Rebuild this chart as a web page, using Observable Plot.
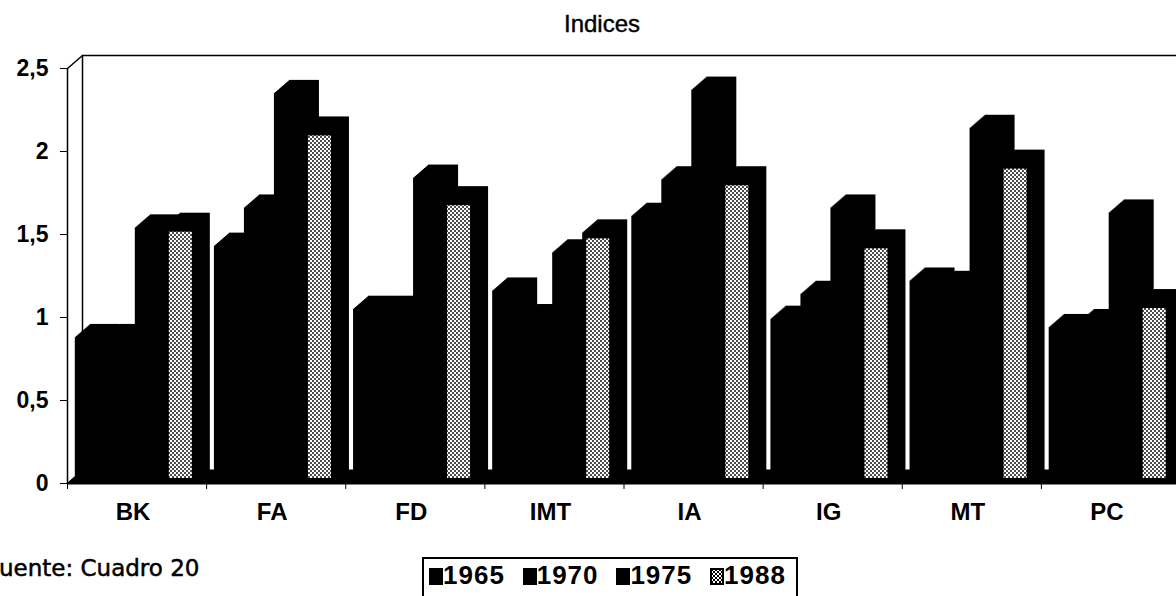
<!DOCTYPE html>
<html><head><meta charset="utf-8">
<script src="https://cdn.jsdelivr.net/npm/d3@7"></script>
<script src="https://cdn.jsdelivr.net/npm/@observablehq/plot@0.6"></script>
<style>
html,body{margin:0;padding:0;background:#fff;}
body{width:1176px;height:596px;overflow:hidden;position:relative;font-family:"Liberation Sans",Arial,sans-serif;color:#000;}
#title{position:absolute;left:0;width:1204px;top:12px;text-align:center;font-size:24px;line-height:24px;-webkit-text-stroke:0.4px #000;}
#chart{position:absolute;left:0;top:40px;}
#caption{position:absolute;left:-13px;top:557px;font-family:"DejaVu Sans",sans-serif;font-size:23px;line-height:23px;white-space:nowrap;-webkit-text-stroke:0.5px #000;}
#legend{position:absolute;left:422px;top:557px;width:376px;height:60px;border:2px solid #000;box-sizing:border-box;}
.sw{position:absolute;top:9px;width:14px;height:17px;background:#000;box-sizing:border-box;}
.sw.dot{border:2px solid #000;background-color:#fff;
 background-image:radial-gradient(circle,#000 0.9px,transparent 1.3px),radial-gradient(circle,#000 0.9px,transparent 1.3px);
 background-size:4px 4px,4px 4px;background-position:0 0,2px 2px;}
.lt{position:absolute;top:3px;font-weight:bold;font-size:26px;line-height:26px;letter-spacing:1px;white-space:nowrap;}
</style>
</head>
<body>
<div id="title">Indices</div>
<div id="chart"></div>
<div id="caption">Fuente: Cuadro 20</div>
<div id="legend"></div>
<script>
// ---- data ----
const categories = ["BK", "FA", "FD", "IMT", "IA", "IG", "MT", "PC"];
const years = ["1965", "1970", "1975", "1988"];
const v1965 = [0.88, 1.43, 1.05, 1.16, 1.61, 0.99, 1.22, 0.94];
const v1970 = [0.88, 1.66, 1.05, 1.00, 1.83, 1.14, 1.20, 0.97];
const v1975 = [1.54, 2.35, 1.84, 1.39, 2.37, 1.66, 2.14, 1.63];
const v1988 = [1.55, 2.13, 1.71, 1.51, 1.83, 1.45, 1.93, 1.09];
const yTicks = [0, 0.5, 1, 1.5, 2, 2.5];

const series = [v1965, v1970, v1975, v1988];
const rows = [];
categories.forEach((c, i) => years.forEach((yr, j) => rows.push({cat: c, i, j, year: yr, value: series[j][i]})));
const rows1988 = rows.filter(d => d.year === "1988");

// geometry (pixels) of the 3D look
const X0 = 67, X1 = 1180, Y0px = 443, Y1px = 28;
const DEPTH_X = 15, DEPTH_Y = 13;
const OFF = 7.8 / 139.1, W = 30 / 139.1;   // band fractions
const ddx = DEPTH_X * 8 / (X1 - X0), ddy = DEPTH_Y * 2.5 / (Y0px - Y1px);

const bx1 = d => d.i + OFF + d.j * W;
const bx2 = d => d.i + OFF + (d.j + 1) * W;

const extrude = [], floor = [];
for (let k = DEPTH_X; k >= 0; k--) {
  extrude.push(Plot.rect(rows, {x1: bx1, x2: bx2, y1: 0, y2: "value", fill: "#000", dx: k, dy: -k * DEPTH_Y / DEPTH_X}));
  floor.push(Plot.ruleY([0], {x1: 0, x2: 8.3, dx: k, dy: -k * DEPTH_Y / DEPTH_X, stroke: "#000", strokeWidth: 2}));
}

const chart = Plot.plot({
  width: 1176, height: 500,
  marginLeft: X0, marginRight: 0, marginTop: 28, marginBottom: 57,
  x: {domain: [0, 8], range: [X0, X1], label: null},
  y: {domain: [0, 2.5], label: null},
  style: {background: "transparent", fontFamily: "'Liberation Sans', Arial, sans-serif", color: "#000"},
  marks: [
    // back wall
    Plot.ruleX([0], {y1: 0, y2: 2.5, dx: DEPTH_X, dy: -DEPTH_Y, stroke: "#000", strokeWidth: 1.5}),
    Plot.ruleY([2.5], {x1: 0, x2: 8.2, dx: DEPTH_X, dy: -DEPTH_Y, stroke: "#000", strokeWidth: 1.5}),
    Plot.link([{a: 0}], {x1: 0, y1: 2.5, x2: ddx, y2: 2.5 + ddy, stroke: "#000", strokeWidth: 1.5}),
    // floor
    Plot.rect([{a: 0}], {x1: ddx, x2: 8.3, y1: 0, y2: ddy, fill: "#000"}),
    ...floor,
    // front axis
    Plot.ruleX([0], {y1: 0, y2: 2.5, stroke: "#000", strokeWidth: 1.5}),
    ...extrude,
    // 1988 front faces
    Plot.rect(rows1988, {x1: bx1, x2: bx2, y1: 0, y2: "value", fill: "url(#dots)", insetLeft: 4, insetRight: 3, insetTop: 6, insetBottom: 5}),
    Plot.axisY({ticks: yTicks, label: null, tickSize: 7, tickPadding: 12, tickFormat: d => String(d).replace(".", ","), fontSize: 23, fontWeight: "bold", stroke: "#000"}),
    Plot.axisX({ticks: d3.range(0, 9), label: null, tickSize: 6, tickFormat: () => "", stroke: "#000"}),
    Plot.axisX({ticks: categories.map((_, i) => i + 0.5), label: null, tickFormat: d => categories[Math.floor(d)], tickSize: 0, tickPadding: 19, fontSize: 24, fontWeight: "bold", dx: -4})
  ]
});

const defs = d3.select(chart).insert("defs", ":first-child");
const pat = defs.append("pattern").attr("id", "dots").attr("patternUnits", "userSpaceOnUse").attr("width", 4).attr("height", 4);
pat.append("rect").attr("width", 4).attr("height", 4).attr("fill", "#fff");
pat.append("circle").attr("cx", 1).attr("cy", 1).attr("r", 0.95).attr("fill", "#000");
pat.append("circle").attr("cx", 3).attr("cy", 3).attr("r", 0.95).attr("fill", "#000");
d3.select(chart).selectAll("text").attr("fill", "#000");
document.getElementById("chart").appendChild(chart);

// legend
const legend = d3.select("#legend");
years.forEach((yr, j) => {
  const left = 5 + j * 93.7;
  legend.append("div").attr("class", "sw" + (yr === "1988" ? " dot" : "")).style("left", left + "px");
  legend.append("div").attr("class", "lt").style("left", (left + 14) + "px").text(yr);
});
</script>
</body></html>
